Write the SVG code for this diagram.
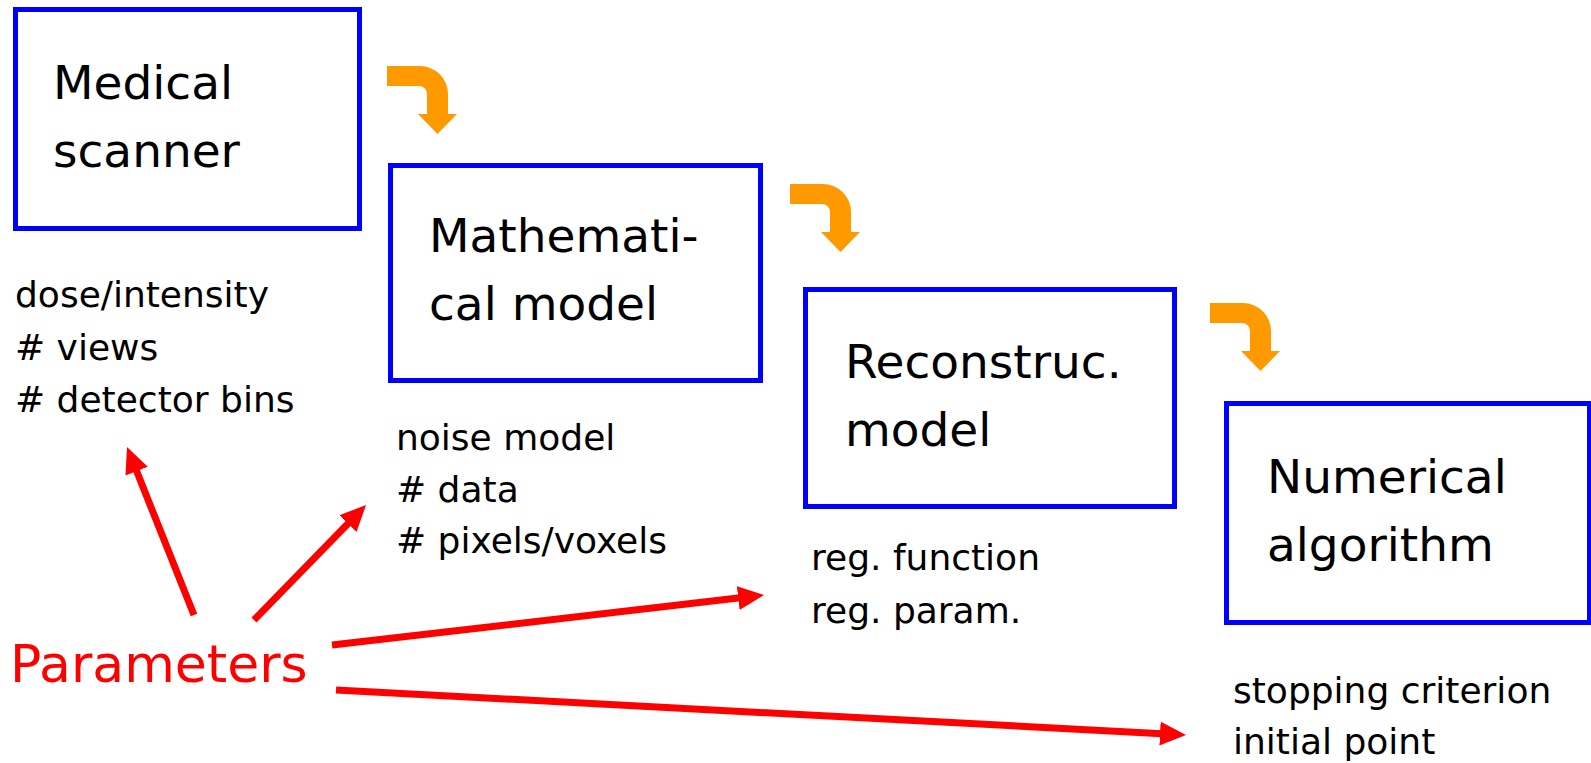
<svg xmlns="http://www.w3.org/2000/svg" width="1591" height="763" viewBox="0 0 1591 763">
  <style>
    .box { fill: #ffffff; stroke: #0000ff; stroke-width: 5; }
    .big { font-family: "DejaVu Sans", "Liberation Sans", sans-serif; font-size: 47px; fill: #000000; }
    .small { font-family: "DejaVu Sans", "Liberation Sans", sans-serif; font-size: 36px; fill: #000000; }
    .param { font-family: "DejaVu Sans", "Liberation Sans", sans-serif; font-size: 52px; fill: #ff0000; }
    .flow { fill: #ff9900; }
    .red { stroke: #ff0000; stroke-width: 7; fill: none; marker-end: url(#redhead); }
  </style>
  <defs>
    <marker id="redhead" markerUnits="userSpaceOnUse" markerWidth="26" markerHeight="24" viewBox="0 0 26 24" refX="2" refY="12" orient="auto">
      <path d="M0,0 L26,12 L0,24 Z" fill="#ff0000"/>
    </marker>
    <path id="flowArrow" d="M387,66 H420 A28,28 0 0 1 448,94 V114 H457 L437.5,134 L418,114 H427 V94 A8,8 0 0 0 419,86 H387 Z"/>
  </defs>
  <rect width="1591" height="763" fill="#ffffff"/>

  <g id="node-scanner">
    <rect class="box" x="15.5" y="9.5" width="344" height="219"/>
    <text class="big" x="53" y="99">Medical</text>
    <text class="big" x="53" y="167">scanner</text>
  </g>
  <g id="params-scanner">
    <text class="small" x="15" y="307">dose/intensity</text>
    <text class="small" x="15" y="360"># views</text>
    <text class="small" x="15" y="412"># detector bins</text>
  </g>

  <g id="node-math">
    <rect class="box" x="390.5" y="165.5" width="370" height="215"/>
    <text class="big" x="429" y="252">Mathemati-</text>
    <text class="big" x="429" y="320">cal model</text>
  </g>
  <g id="params-math">
    <text class="small" x="396" y="450">noise model</text>
    <text class="small" x="396" y="502"># data</text>
    <text class="small" x="396" y="553"># pixels/voxels</text>
  </g>

  <g id="node-recon">
    <rect class="box" x="805.5" y="289.5" width="369" height="217"/>
    <text class="big" x="845" y="378">Reconstruc.</text>
    <text class="big" x="845" y="446">model</text>
  </g>
  <g id="params-recon">
    <text class="small" x="811" y="570">reg. function</text>
    <text class="small" x="811" y="623">reg. param.</text>
  </g>

  <g id="node-numerical">
    <rect class="box" x="1226.5" y="403.5" width="363" height="219"/>
    <text class="big" x="1267" y="493">Numerical</text>
    <text class="big" x="1267" y="561">algorithm</text>
  </g>
  <g id="params-numerical">
    <text class="small" x="1233" y="703">stopping criterion</text>
    <text class="small" x="1233" y="754">initial point</text>
  </g>

  <g id="node-parameters">
    <text class="param" x="10" y="682">Parameters</text>
  </g>

  <g id="connectors">
    <use href="#flowArrow" class="flow"/>
    <use href="#flowArrow" class="flow" transform="translate(403,118)"/>
    <use href="#flowArrow" class="flow" transform="translate(823,237)"/>
    <path class="red" d="M194,615 L135.9,469.3"/>
    <path class="red" d="M254,620 L349.3,522.2"/>
    <path class="red" d="M332,645 L740.2,597.8"/>
    <path class="red" d="M336,690 L1162,733.7"/>
  </g>
</svg>
